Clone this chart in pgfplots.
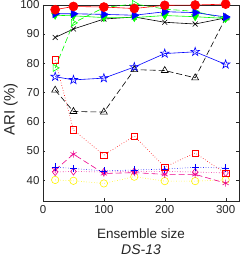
\documentclass[border=0pt]{standalone}
\usepackage{fontspec}
\setmainfont{Liberation Sans}
\usepackage{pgfplots}
\pgfplotsset{compat=1.18}
\pgfdeclareplotmark{pentagram}{%
  \pgfpathmoveto{\pgfpointpolar{90}{\pgfplotmarksize}}%
  \pgfpathlineto{\pgfpointpolar{126}{0.382\pgfplotmarksize}}%
  \pgfpathlineto{\pgfpointpolar{162}{\pgfplotmarksize}}%
  \pgfpathlineto{\pgfpointpolar{198}{0.382\pgfplotmarksize}}%
  \pgfpathlineto{\pgfpointpolar{234}{\pgfplotmarksize}}%
  \pgfpathlineto{\pgfpointpolar{270}{0.382\pgfplotmarksize}}%
  \pgfpathlineto{\pgfpointpolar{306}{\pgfplotmarksize}}%
  \pgfpathlineto{\pgfpointpolar{342}{0.382\pgfplotmarksize}}%
  \pgfpathlineto{\pgfpointpolar{18}{\pgfplotmarksize}}%
  \pgfpathlineto{\pgfpointpolar{54}{0.382\pgfplotmarksize}}%
  \pgfpathclose
  \pgfusepathqstroke
}
\definecolor{axgray}{gray}{0.15}
\begin{document}
\begin{tikzpicture}
\begin{axis}[
  scale only axis, width=196pt, height=196pt,
  at={(0,0)}, anchor=south west,
  xmin=0, xmax=322, ymin=33, ymax=100,
  xtick={0,100,200,300}, ytick={40,50,60,70,80,90,100},
  tick align=inside, major tick length=2.5pt,
  axis line style={axgray}, tick style={axgray},
  /pgf/number format/assume math mode=true,
  tick label style={font=\fontsize{11.5}{13}\selectfont, color=axgray},
  xticklabel style={yshift=-1pt},
  xlabel={Ensemble size}, ylabel={ARI (\%)},
  xlabel style={at={(axis description cs:0.5,0)}, anchor=center, yshift=-33pt, font=\fontsize{13.5}{15}\selectfont, color=axgray},
  ylabel style={at={(axis description cs:-0.165,0.465)}, anchor=center, font=\fontsize{15}{17}\selectfont, color=axgray},
  clip=false,
  every axis plot/.append style={line width=0.6pt},
]
% yellow circles dotted
\addplot[yellow, dotted, mark=o, mark size=3.7pt, mark options={solid}] coordinates {(20,40.1) (50,39.8) (100,38.9) (150,41.2) (200,39.7) (250,39.7) (300,40.1)};
% magenta diamonds dotted
\addplot[magenta, dotted, mark=diamond, mark size=3.6pt, mark options={solid}] coordinates {(20,42.8) (50,43.0) (100,42.8) (150,43.0) (200,43.0) (250,42.8) (300,42.5)};
% magenta asterisk dashed
\addplot[magenta, dash pattern=on 6pt off 3pt, mark=asterisk, mark size=3.5pt, mark options={solid}] coordinates {(20,43.5) (50,48.9) (100,42.3) (150,42.6) (200,42.0) (250,42.0) (300,39.0)};
% blue plus dotted
\addplot[blue, dotted, mark=+, mark size=3.6pt, mark options={solid}] coordinates {(20,44.5) (50,44.0) (100,43.2) (150,43.5) (200,43.8) (250,44.4) (300,44.2)};
% red squares dotted
\addplot[red, dotted, mark=square, mark size=3.2pt, mark options={solid}] coordinates {(20,81.1) (50,57.2) (100,48.6) (150,55.1) (200,44.5) (250,49.3) (300,42.3)};
% black triangles dashed
\addplot[black, dash pattern=on 6pt off 3pt, mark=triangle, mark size=4pt, mark options={solid}] coordinates {(20,70.8) (50,63.5) (100,63.3) (150,77.8) (200,77.5) (250,75.0) (300,95.5)};
% blue pentagram solid
\addplot[blue, mark=pentagram, mark size=4.5pt] coordinates {(20,75.4) (50,74.3) (100,74.9) (150,78.7) (200,83.3) (250,83.9) (300,79.6)};
% black x solid
\addplot[black, mark=x, mark size=3.5pt] coordinates {(20,88.8) (50,91.7) (100,95.1) (150,95.8) (200,94.0) (250,93.4) (300,95.5)};
% green dashed open right triangles
\addplot[green, dash pattern=on 6pt off 3pt, mark=triangle, mark size=4pt, mark options={solid, rotate=-90}] coordinates {(20,78.4) (50,93.8) (100,99.0) (150,100.3) (200,98.5) (250,97.7) (300,95.2)};
% green solid filled down triangles
\addplot[green, mark=triangle*, mark size=4pt, mark options={rotate=180, fill=green}] coordinates {(20,96.4) (50,96.2) (100,95.6) (150,95.6) (200,96.3) (250,95.9) (300,95.3)};
% blue solid filled right triangles
\addplot[blue, mark=triangle*, mark size=4.5pt, mark options={rotate=-90, fill=blue}] coordinates {(20,96.9) (50,96.9) (100,96.7) (150,96.4) (200,97.6) (250,97.3) (300,95.8)};
% red solid filled circles
\addplot[red, mark=*, mark size=4.5pt, mark options={fill=red}] coordinates {(20,98.3) (50,99.4) (100,99.2) (150,98.7) (200,99.8) (250,99.9) (300,100.2)};
\end{axis}
\node[font=\fontsize{14}{16}\selectfont\itshape, color=axgray] at (98pt,-49pt) {DS-13};
\pgfresetboundingbox
\path (-43pt,-57.3pt) rectangle (198pt,200.7pt);
\end{tikzpicture}
\end{document}
